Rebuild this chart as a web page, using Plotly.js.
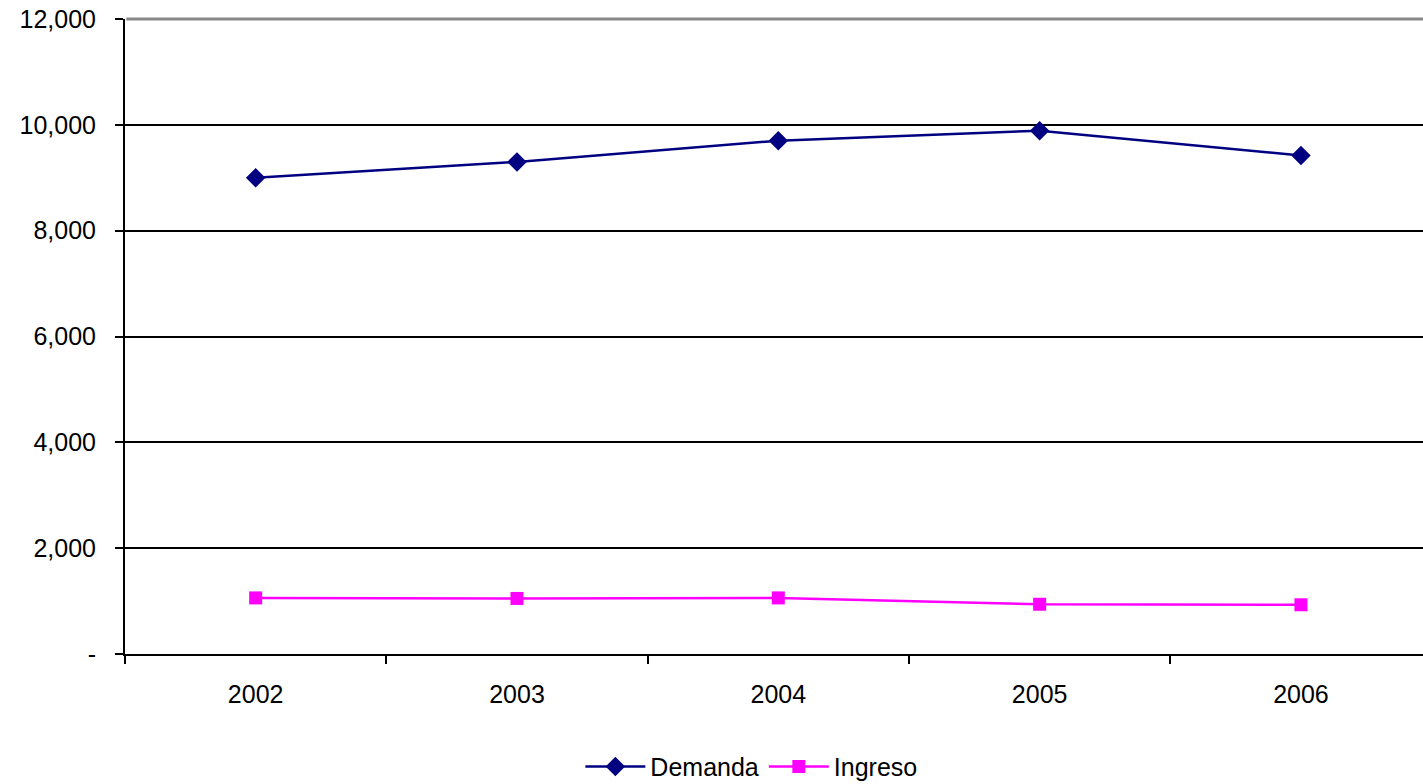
<!DOCTYPE html>
<html>
<head>
<meta charset="utf-8">
<script src="https://cdn.plot.ly/plotly-3.0.1.min.js"></script>
<style>html,body{margin:0;padding:0;background:#fff;}#chart{width:1423px;height:784px;}</style>
</head>
<body>
<div id="chart"></div>
<script>
const years = ['2002', '2003', '2004', '2005', '2006'];
const demanda = [9000, 9300, 9700, 9890, 9420];
const ingreso = [1060, 1050, 1060, 940, 930];
const yTickVals = [0, 2000, 4000, 6000, 8000, 10000, 12000];
const yTickText = ['-', '2,000', '4,000', '6,000', '8,000', '10,000', '12,000'];

const font = {family: 'Liberation Sans, Arial, sans-serif', size: 25, color: '#000'};

const traces = [
  {x: years, y: demanda, name: 'Demanda', type: 'scatter', mode: 'lines+markers',
   line: {color: '#000080', width: 2.5}, marker: {symbol: 'diamond', size: 15, color: '#000080'}},
  {x: years, y: ingreso, name: 'Ingreso', type: 'scatter', mode: 'lines+markers',
   line: {color: '#FF00FF', width: 2.5}, marker: {symbol: 'square', size: 13, color: '#FF00FF'}}
];

const layout = {
  width: 1423, height: 784,
  margin: {l: 125, r: 0, t: 19, b: 130, autoexpand: false},
  paper_bgcolor: '#fff', plot_bgcolor: '#fff',
  font: font,
  showlegend: true,
  legend: {orientation: 'h', xref: 'container', yref: 'container', x: 0.528, xanchor: 'center',
           y: 0.022, yanchor: 'middle', font: font, itemwidth: 60},
  xaxis: {type: 'category', range: [-0.5, 4.467], tickson: 'boundaries', ticks: 'outside', ticklen: 8, tickwidth: 2,
          tickcolor: '#000', showline: true, linecolor: '#000', linewidth: 2, showgrid: false, zeroline: false,
          tickfont: font, ticklabelstandoff: 17, fixedrange: true, automargin: false},
  yaxis: {range: [0, 12000], tickvals: yTickVals, ticktext: yTickText, ticks: 'outside', ticklen: 8, tickwidth: 2,
          tickcolor: '#000', showline: true, linecolor: '#000', linewidth: 2, showgrid: true, gridcolor: '#000',
          gridwidth: 2, zeroline: false, tickfont: font, ticklabelstandoff: 14, fixedrange: true, automargin: false},
  shapes: [{type: 'line', xref: 'paper', yref: 'paper', x0: 0.001, x1: 1, y0: 1, y1: 1,
            line: {color: '#888', width: 3}, layer: 'above'}]
};

Plotly.newPlot('chart', traces, layout, {displayModeBar: false, staticPlot: true});
</script>
</body>
</html>
